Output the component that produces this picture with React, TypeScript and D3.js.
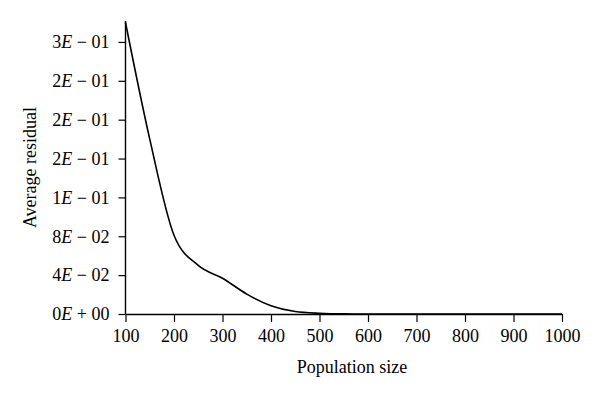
import React, { useEffect, useRef } from "react";
import * as d3 from "d3";

// population sizes (x) and the average residual (y)
const populationSizes = [
  100, 150, 200, 250, 300, 350, 400, 450, 500, 550, 600, 650, 700, 750, 800,
  850, 900, 950, 1000,
];
const averageResiduals = [
  0.3, 0.18, 0.081, 0.05, 0.0368, 0.0205, 0.0085, 0.0025, 0.0007, 0.0001, 0,
  0, 0, 0, 0, 0, 0, 0, 0,
];

const xTicks = [100, 200, 300, 400, 500, 600, 700, 800, 900, 1000];
const yTicks = [0, 0.04, 0.08, 0.12, 0.16, 0.2, 0.24, 0.28];
const yTickMantissas = ["0", "4", "8", "1", "2", "2", "2", "3"];
const yTickExponents = ["+ 00", "− 02", "− 02", "− 01", "− 01", "− 01", "− 01", "− 01"];

const App = () => {
  const svgRef = useRef(null);

  useEffect(() => {
    const width = 600;
    const height = 398;
    const margin = { top: 21, right: 38, bottom: 84, left: 125.5 };
    const font = "'Liberation Serif', 'Times New Roman', serif";
    const fontSize = "18px";

    let svg = d3.select(svgRef.current);
    svg.selectAll("*").remove();
    svg.attr("width", width).attr("height", height);

    const x = d3
      .scaleLinear()
      .domain([100, 1000])
      .range([margin.left, width - margin.right]);
    const y = d3
      .scaleLinear()
      .domain([0, 0.3])
      .range([height - margin.bottom, margin.top + 1.5]);

    const bottom = height - margin.bottom;

    // x axis
    const xAxis = svg
      .append("g")
      .attr("transform", `translate(0, ${bottom})`)
      .call(
        d3
          .axisBottom(x)
          .tickValues(xTicks)
          .tickFormat(d3.format("d"))
          .tickSize(8)
          .tickSizeOuter(0)
          .tickPadding(7)
      );
    xAxis.select(".domain").attr("stroke", "#000").attr("stroke-width", 1.4);
    xAxis.selectAll("line").attr("stroke", "#000").attr("stroke-width", 1.2);
    xAxis
      .selectAll("text")
      .attr("fill", "#000")
      .style("font-family", font)
      .style("font-size", fontSize);

    // y axis
    const yAxis = svg
      .append("g")
      .attr("transform", `translate(${margin.left}, 0)`)
      .call(d3.axisLeft(y).tickValues(yTicks).tickSize(7).tickSizeOuter(0).tickFormat(() => ""));
    yAxis
      .select(".domain")
      .attr("d", `M0,${bottom}V${margin.top}`)
      .attr("stroke", "#000")
      .attr("stroke-width", 1.4);
    yAxis.selectAll("line").attr("stroke", "#000").attr("stroke-width", 1.2);

    yAxis
      .selectAll(".tick")
      .select("text")
      .attr("x", -16)
      .attr("dy", "0.32em")
      .attr("fill", "#000")
      .attr("text-anchor", "end")
      .style("font-family", font)
      .style("font-size", fontSize)
      .each(function (d, i) {
        const t = d3.select(this);
        t.append("tspan").text(yTickMantissas[i]);
        t.append("tspan").style("font-style", "italic").text("E");
        t.append("tspan").text(" " + yTickExponents[i]);
      });

    // curve
    const line = d3
      .line()
      .x((d) => x(d[0]))
      .y((d) => y(d[1]))
      .curve(d3.curveMonotoneX);

    svg
      .append("path")
      .datum(populationSizes.map((p, i) => [p, averageResiduals[i]]))
      .attr("fill", "none")
      .attr("stroke", "#000")
      .attr("stroke-width", 1.6)
      .attr("d", line);

    // axis titles
    svg
      .append("text")
      .attr("x", 352)
      .attr("y", 373)
      .attr("text-anchor", "middle")
      .style("font-family", font)
      .style("font-size", fontSize)
      .text("Population size");

    svg
      .append("text")
      .attr("transform", `translate(36, ${(bottom + margin.top) / 2}) rotate(-90)`)
      .attr("text-anchor", "middle")
      .style("font-family", font)
      .style("font-size", fontSize)
      .text("Average residual");
  }, []);

  return (
    <svg
      ref={svgRef}
      style={{ position: "absolute", left: 0, top: 0, background: "#fff" }}
    ></svg>
  );
};

export default App;
